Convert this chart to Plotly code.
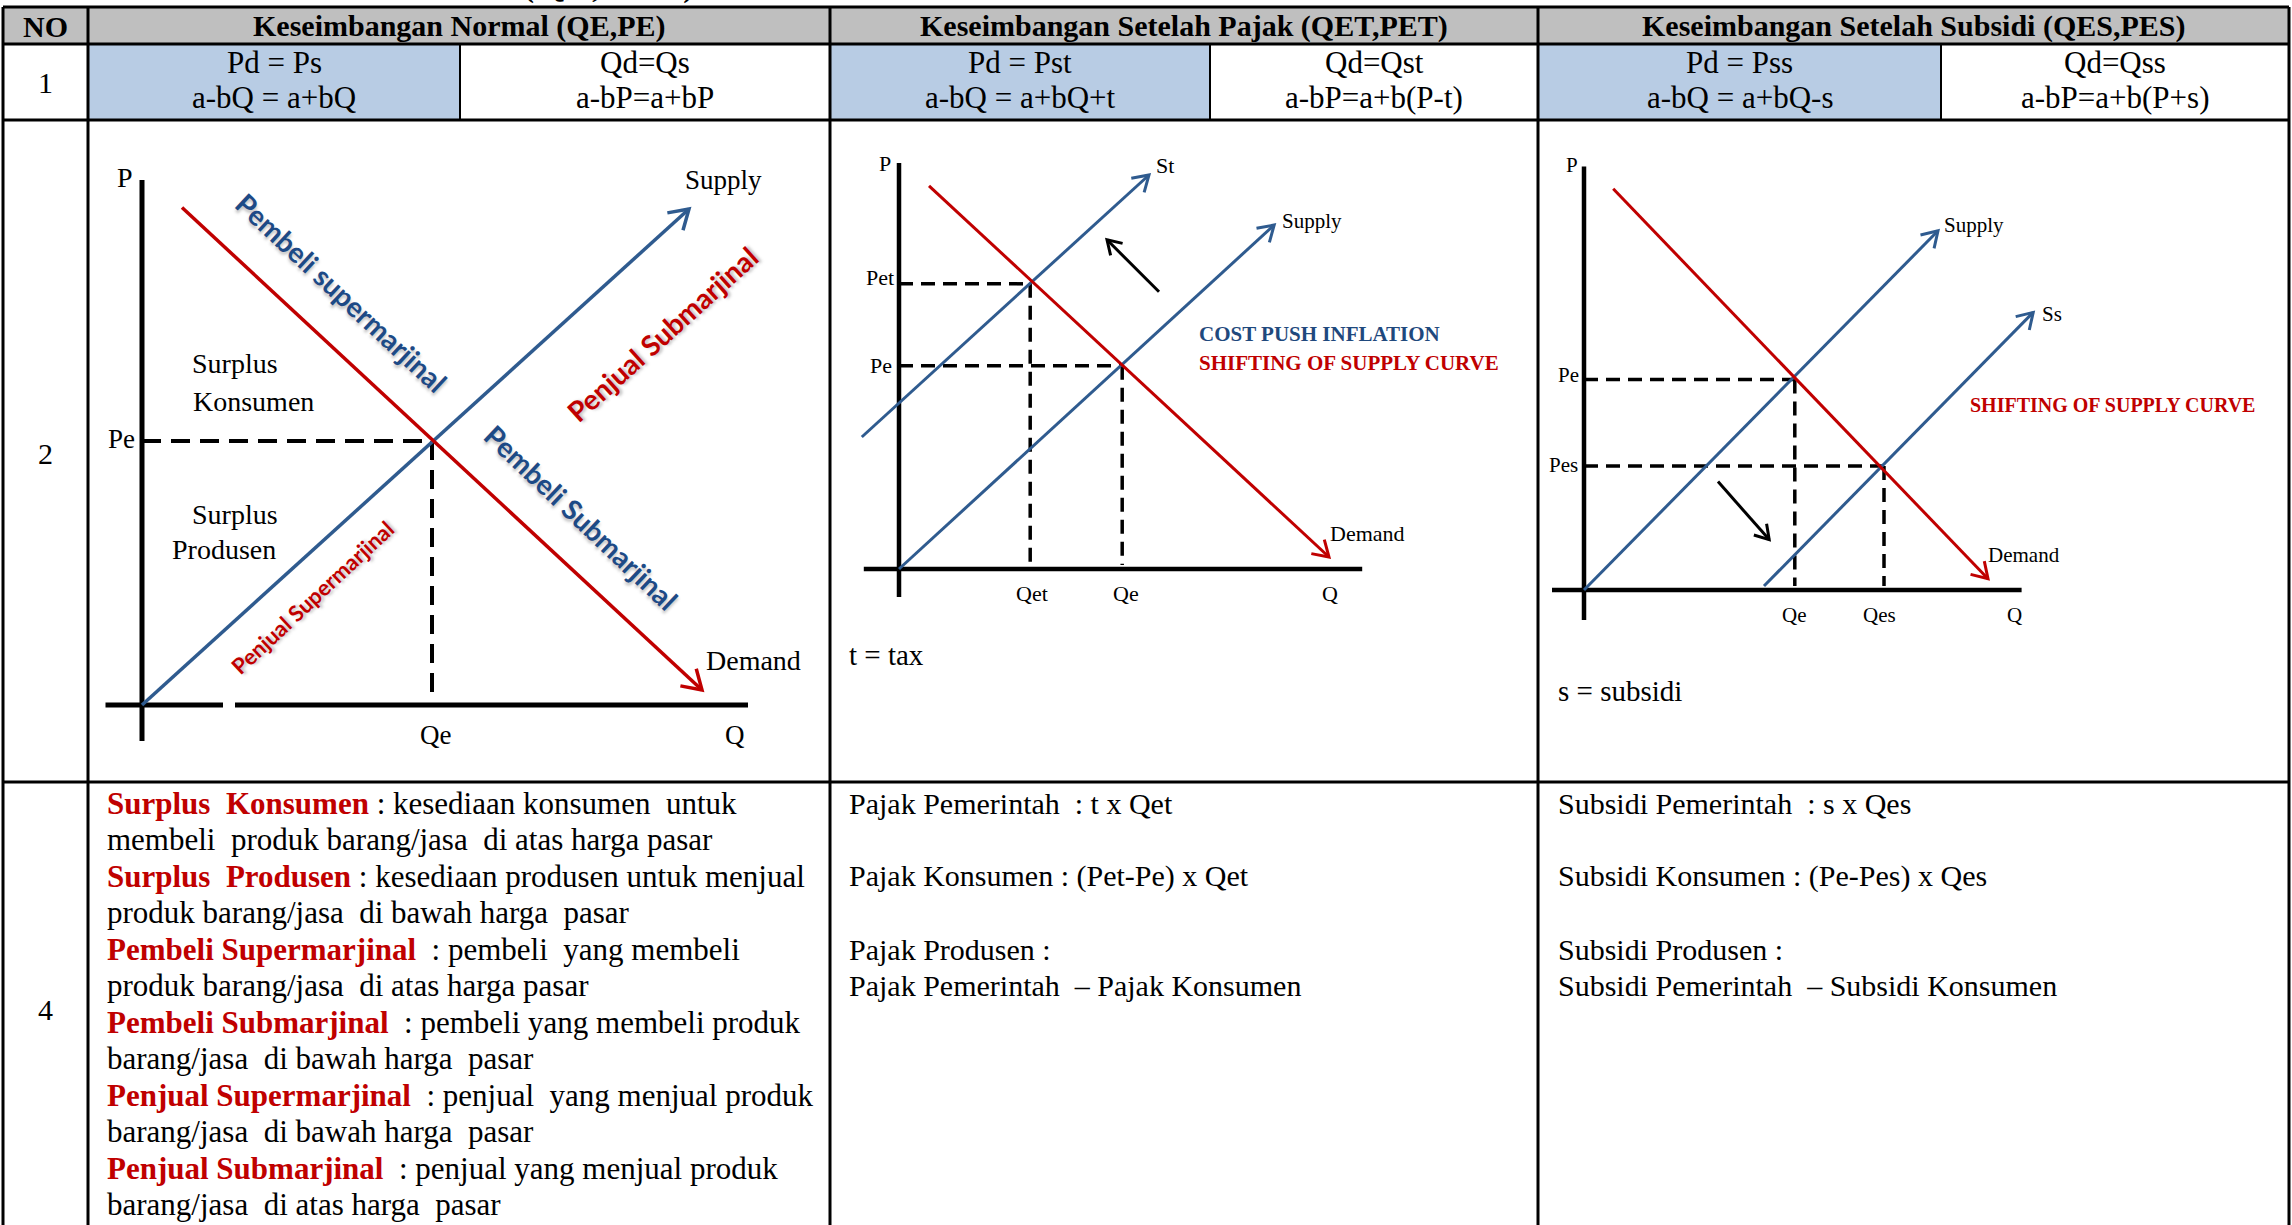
import math
import plotly.graph_objects as go

W, H = 2292, 1225

# ---------------- table texts ----------------
HEADERS = ["NO", "Keseimbangan Normal (QE,PE)", "Keseimbangan Setelah Pajak (QET,PET)",
           "Keseimbangan Setelah Subsidi (QES,PES)"]
TOP_CUT_TEXT = "(&nbsp;QE&nbsp;,&nbsp;&nbsp;&nbsp;PE&nbsp;&nbsp;&nbsp;)"
ROW_NUMBERS = ["1", "2", "4"]
ROW1_CELLS = [["Pd = Ps", "a-bQ = a+bQ"], ["Qd=Qs", "a-bP=a+bP"],
              ["Pd = Pst", "a-bQ = a+bQ+t"], ["Qd=Qst", "a-bP=a+b(P-t)"],
              ["Pd = Pss", "a-bQ = a+bQ-s"], ["Qd=Qss", "a-bP=a+b(P+s)"]]
NOTE_TERMS = ["Surplus  Konsumen", "", "Surplus  Produsen", "", "Pembeli Supermarjinal", "",
              "Pembeli Submarjinal", "", "Penjual Supermarjinal", "", "Penjual Submarjinal", ""]
NOTE_TEXTS = [" : kesediaan konsumen  untuk", "membeli  produk barang/jasa  di atas harga pasar",
              " : kesediaan produsen untuk menjual", "produk barang/jasa  di bawah harga  pasar",
              "  : pembeli  yang membeli", "produk barang/jasa  di atas harga pasar",
              "  : pembeli yang membeli produk", "barang/jasa  di bawah harga  pasar",
              "  : penjual  yang menjual produk", "barang/jasa  di bawah harga  pasar",
              "  : penjual yang menjual produk", "barang/jasa  di atas harga  pasar"]
TAX_NOTES = ["Pajak Pemerintah  : t x Qet", "", "Pajak Konsumen : (Pet-Pe) x Qet", "",
             "Pajak Produsen :", "Pajak Pemerintah  \u2013 Pajak Konsumen"]
SUB_NOTES = ["Subsidi Pemerintah  : s x Qes", "", "Subsidi Konsumen : (Pe-Pes) x Qes", "",
             "Subsidi Produsen :", "Subsidi Pemerintah  \u2013 Subsidi Konsumen"]
FOOT_NOTES = ["t = tax", "s = subsidi"]

# ---------------- diagram 1 : normal equilibrium ----------------
D1_SUPPLY_Q = [0, 10.94]
D1_SUPPLY_P = [0, 9.92]
D1_DEMAND_Q = [0.8, 11.2]
D1_DEMAND_P = [9.95, 0.3]
D1_QE, D1_PE = 5.8, 5.28

# ---------------- diagram 2 : after tax ----------------
D2_SUPPLY_Q = [0, 9.38]
D2_SUPPLY_P = [0, 8.6]
D2_ST_Q = [-0.93, 6.25]
D2_ST_P = [3.3, 9.85]
D2_DEMAND_Q = [0.75, 10.75]
D2_DEMAND_P = [9.58, 0.3]
D2_QET, D2_PET = 3.28, 7.13
D2_QE, D2_PE = 5.58, 5.08
D2_SHIFT_Q = [6.5, 5.2]
D2_SHIFT_P = [6.93, 8.23]

# ---------------- diagram 3 : after subsidy ----------------
D3_SUPPLY_Q = [0, 8.85]
D3_SUPPLY_P = [0, 8.98]
D3_SS_Q = [4.5, 11.23]
D3_SS_P = [0.1, 6.94]
D3_DEMAND_Q = [0.73, 10.1]
D3_DEMAND_P = [10.03, 0.28]
D3_QE, D3_PE = 5.27, 5.26
D3_QES, D3_PES = 7.5, 3.1
D3_SHIFT_Q = [3.35, 4.63]
D3_SHIFT_P = [2.71, 1.26]

# ---------------- styles / layout geometry ----------------
SERIF = "Liberation Serif, Times New Roman, serif"
SANS = "Lato, Open Sans, sans-serif"
BLUE = "#2F5B8F"
RED = "#C00000"
LBLUE = "#1D4A86"
GRAY = "#BFBFBF"
CELLBLUE = "#B8CCE4"

COL_X = [3, 88, 830, 1538, 2289]
SPLIT_X = [460, 1210, 1941]
ROW_Y = [7, 44, 120, 782, 1225]

fig = go.Figure()
annotations = []
shapes = []

fig.add_trace(go.Scatter(x=[0], y=[0], mode="markers", marker=dict(opacity=0),
                         hoverinfo="skip", showlegend=False))


def page_text(x, y, text, size, bold=False, xanchor="center", color="black"):
    if bold:
        text = "<b>" + text + "</b>"
    annotations.append(dict(x=x, y=y, xref="x", yref="y", text=text, showarrow=False,
                            xanchor=xanchor, yanchor="middle",
                            font=dict(family=SERIF, size=size, color=color)))


# cut-off title line above the table (only its descenders show, as in the source page)
annotations.append(dict(x=608 / W, y=1 - 6 / H, xref="paper", yref="paper", text="<b>" + TOP_CUT_TEXT + "</b>",
                        showarrow=False, xanchor="center", yanchor="bottom",
                        font=dict(family=SERIF, size=30, color="black")))

# fills
shapes.append(dict(type="rect", xref="x", yref="y", x0=COL_X[0], x1=COL_X[-1], y0=ROW_Y[0], y1=ROW_Y[1],
                   fillcolor=GRAY, line=dict(width=0), layer="below"))
for i, sx in enumerate(SPLIT_X):
    shapes.append(dict(type="rect", xref="x", yref="y", x0=COL_X[i + 1], x1=sx, y0=ROW_Y[1], y1=ROW_Y[2],
                       fillcolor=CELLBLUE, line=dict(width=0), layer="below"))
# grid lines
for y in ROW_Y[:-1]:
    shapes.append(dict(type="line", xref="x", yref="y", x0=COL_X[0], x1=COL_X[-1], y0=y, y1=y,
                       line=dict(color="black", width=3)))
for x in COL_X:
    shapes.append(dict(type="line", xref="x", yref="y", x0=x, x1=x, y0=ROW_Y[0], y1=ROW_Y[-1],
                       line=dict(color="black", width=3)))
for x in SPLIT_X:
    shapes.append(dict(type="line", xref="x", yref="y", x0=x, x1=x, y0=ROW_Y[1], y1=ROW_Y[2],
                       line=dict(color="black", width=2)))

# header
for i, h in enumerate(HEADERS):
    page_text((COL_X[i] + COL_X[i + 1]) / 2, 26, h, 30, bold=True)
# row numbers
page_text((COL_X[0] + COL_X[1]) / 2, 82, ROW_NUMBERS[0], 30)
page_text((COL_X[0] + COL_X[1]) / 2, 453, ROW_NUMBERS[1], 30)
page_text((COL_X[0] + COL_X[1]) / 2, 1009, ROW_NUMBERS[2], 30)
# row 1
cell_bounds = []
for i in range(3):
    cell_bounds.append((COL_X[i + 1], SPLIT_X[i]))
    cell_bounds.append((SPLIT_X[i], COL_X[i + 2]))
for (x0, x1), (l1, l2) in zip(cell_bounds, ROW1_CELLS):
    page_text((x0 + x1) / 2, 62, l1, 31)
    page_text((x0 + x1) / 2, 97, l2, 31)
# row 4
for j, (term, rest) in enumerate(zip(NOTE_TERMS, NOTE_TEXTS)):
    t = ""
    if term:
        t = "<b><span style='color:%s'>%s</span></b>" % (RED, term)
    page_text(105, 803 + 36.5 * j, t + rest, 31, xanchor="left")
for j, (a, b) in enumerate(zip(TAX_NOTES, SUB_NOTES)):
    if a:
        page_text(847, 803 + 36.5 * j, a, 30, xanchor="left")
    if b:
        page_text(1556, 803 + 36.5 * j, b, 30, xanchor="left")
page_text(847, 655, FOOT_NOTES[0], 29, xanchor="left")
page_text(1556, 691, FOOT_NOTES[1], 29, xanchor="left")

# ---------------- diagrams ----------------
DIAG = {
    2: dict(origin=(142, 705), unit=50, qr=(-1.5, 12.9), pr=(-1.2, 11.0)),
    3: dict(origin=(899, 569), unit=40, qr=(-1.6, 12.6), pr=(-1.2, 10.8)),
    4: dict(origin=(1584, 590), unit=40, qr=(-1.2, 17.2), pr=(-1.2, 11.0)),
}
layout_axes = {}
for n, d in DIAG.items():
    ox, oy = d["origin"]
    k = d["unit"]
    qr, pr = d["qr"], d["pr"]
    xd = [(ox + qr[0] * k) / W, (ox + qr[1] * k) / W]
    yd = [1 - (oy - pr[0] * k) / H, 1 - (oy - pr[1] * k) / H]
    layout_axes["xaxis%d" % n] = dict(domain=xd, range=list(qr), anchor="y%d" % n, visible=False,
                                      fixedrange=True)
    layout_axes["yaxis%d" % n] = dict(domain=yd, range=list(pr), anchor="x%d" % n, visible=False,
                                      fixedrange=True)


def line(n, q, p, color, width, dash=None):
    fig.add_trace(go.Scatter(x=q, y=p, xaxis="x%d" % n, yaxis="y%d" % n, mode="lines",
                             line=dict(color=color, width=width, dash=dash),
                             hoverinfo="skip", showlegend=False, cliponaxis=False))


def arrow(n, q, p, color, width, head_px=22, ang=32):
    line(n, q, p, color, width)
    k = DIAG[n]["unit"]
    dx, dy = q[-1] - q[-2], p[-1] - p[-2]
    L = math.hypot(dx, dy)
    bx, by = -dx / L, -dy / L
    hl = head_px / k
    a = math.radians(ang)
    pts = []
    for s in (1, -1):
        rx = bx * math.cos(s * a) - by * math.sin(s * a)
        ry = bx * math.sin(s * a) + by * math.cos(s * a)
        pts.append((q[-1] + hl * rx, p[-1] + hl * ry))
    line(n, [pts[0][0], q[-1], pts[1][0]], [pts[0][1], p[-1], pts[1][1]], color, width)


def lab(n, q, p, text, size, color="black", xanchor="center", bold=False, angle=0, family=SERIF,
        shadow=None):
    if bold:
        text = "<b>" + text + "</b>"
    font = dict(family=family, size=size, color=color)
    if shadow:
        font["shadow"] = shadow
    annotations.append(dict(x=q, y=p, xref="x%d" % n, yref="y%d" % n, text=text, showarrow=False,
                            xanchor=xanchor, yanchor="middle", textangle=angle, font=font))


SHADOW = "2px 2px 3px rgba(120,120,120,0.45)"

# diagram 1
line(2, [0, 0], [-0.72, 10.5], "black", 5)
line(2, [-0.73, 1.62, None, 1.86, 12.12], [0, 0, None, 0, 0], "black", 5)
line(2, [0, D1_QE], [D1_PE, D1_PE], "black", 4, "19px,10px")
line(2, [D1_QE, D1_QE], [D1_PE, 0.2], "black", 4, "19px,10px")
arrow(2, D1_SUPPLY_Q, D1_SUPPLY_P, BLUE, 3.5)
arrow(2, D1_DEMAND_Q, D1_DEMAND_P, RED, 3.5)
lab(2, -0.34, 10.54, "P", 28)
lab(2, 11.62, 10.5, "Supply", 27)
lab(2, 12.22, 0.9, "Demand", 28)
lab(2, 11.86, -0.6, "Q", 27)
lab(2, 5.86, -0.6, "Qe", 27)
lab(2, -0.42, 5.32, "Pe", 27)
lab(2, 1.86, 6.82, "Surplus", 28)
lab(2, 2.22, 6.06, "Konsumen", 28)
lab(2, 1.86, 3.82, "Surplus", 28)
lab(2, 1.64, 3.12, "Produsen", 28)
lab(2, 3.98, 8.26, "Pembeli supermarjinal", 28, LBLUE, bold=True, angle=43, family=SANS, shadow=SHADOW)
lab(2, 10.4, 7.42, "Penjual Submarjinal", 28, RED, bold=True, angle=-42, family=SANS, shadow=SHADOW)
lab(2, 8.78, 3.76, "Pembeli Submarjinal", 28, LBLUE, bold=True, angle=43.5, family=SANS, shadow=SHADOW)
lab(2, 3.4, 2.16, "Penjual Supermarjinal", 22, RED, bold=True, angle=-43, family=SANS, shadow=SHADOW)

# diagram 2
line(3, [0, 0], [-0.7, 10.15], "black", 4.5)
line(3, [-0.88, 11.58], [0, 0], "black", 4.5)
line(3, [0, D2_QET], [D2_PET, D2_PET], "black", 3.5, "14px,8px")
line(3, [D2_QET, D2_QET], [D2_PET, 0.1], "black", 3.5, "14px,8px")
line(3, [0, D2_QE], [D2_PE, D2_PE], "black", 3.5, "14px,8px")
line(3, [D2_QE, D2_QE], [D2_PE, 0.1], "black", 3.5, "14px,8px")
arrow(3, D2_SUPPLY_Q, D2_SUPPLY_P, BLUE, 3, head_px=18)
arrow(3, D2_ST_Q, D2_ST_P, BLUE, 3, head_px=18)
arrow(3, D2_DEMAND_Q, D2_DEMAND_P, RED, 3, head_px=18)
arrow(3, D2_SHIFT_Q, D2_SHIFT_P, "black", 3, head_px=16)
lab(3, -0.35, 10.15, "P", 22)
lab(3, 6.65, 10.1, "St", 22)
lab(3, 10.33, 8.7, "Supply", 21)
lab(3, 11.7, 0.88, "Demand", 22)
lab(3, 10.78, -0.6, "Q", 22)
lab(3, 3.33, -0.6, "Qet", 22)
lab(3, 5.68, -0.6, "Qe", 22)
lab(3, -0.48, 7.3, "Pet", 22)
lab(3, -0.45, 5.1, "Pe", 22)
lab(3, 7.45, 5.88, "COST PUSH INFLATION", 21, "#1F497D", xanchor="left", bold=True)
lab(3, 7.45, 5.15, "SHIFTING OF SUPPLY CURVE", 21, RED, xanchor="left", bold=True)

# diagram 3
line(4, [0, 0], [-0.75, 10.59], "black", 4.5)
line(4, [-0.8, 10.94], [0, 0], "black", 4.5)
line(4, [0, D3_QE], [D3_PE, D3_PE], "black", 3.5, "14px,8px")
line(4, [D3_QE, D3_QE], [D3_PE, 0.1], "black", 3.5, "14px,8px")
line(4, [0, D3_QES], [D3_PES, D3_PES], "black", 3.5, "14px,8px")
line(4, [D3_QES, D3_QES], [D3_PES, 0.1], "black", 3.5, "14px,8px")
arrow(4, D3_SUPPLY_Q, D3_SUPPLY_P, BLUE, 3, head_px=18)
arrow(4, D3_SS_Q, D3_SS_P, BLUE, 3, head_px=18)
arrow(4, D3_DEMAND_Q, D3_DEMAND_P, RED, 3, head_px=18)
arrow(4, D3_SHIFT_Q, D3_SHIFT_P, "black", 3, head_px=16)
lab(4, -0.3, 10.62, "P", 21)
lab(4, 9.74, 9.13, "Supply", 21)
lab(4, 11.7, 6.9, "Ss", 21)
lab(4, 11.0, 0.88, "Demand", 21)
lab(4, 10.75, -0.62, "Q", 21)
lab(4, 5.27, -0.62, "Qe", 21)
lab(4, 7.38, -0.62, "Qes", 21)
lab(4, -0.4, 5.37, "Pe", 21)
lab(4, -0.52, 3.13, "Pes", 21)
lab(4, 13.2, 4.63, "SHIFTING OF SUPPLY CURVE", 20, RED, bold=True)

fig.update_layout(
    width=W, height=H, margin=dict(l=0, r=0, t=0, b=0),
    paper_bgcolor="white", plot_bgcolor="rgba(0,0,0,0)",
    xaxis=dict(domain=[0, 1], range=[0, W], visible=False, fixedrange=True),
    yaxis=dict(domain=[0, 1], range=[H, 0], visible=False, fixedrange=True),
    shapes=shapes, annotations=annotations, showlegend=False,
    **layout_axes,
)

fig.write_html("out.html", config={"displayModeBar": False},
               post_script="document.body.style.margin='0';document.body.style.overflow='hidden';")
